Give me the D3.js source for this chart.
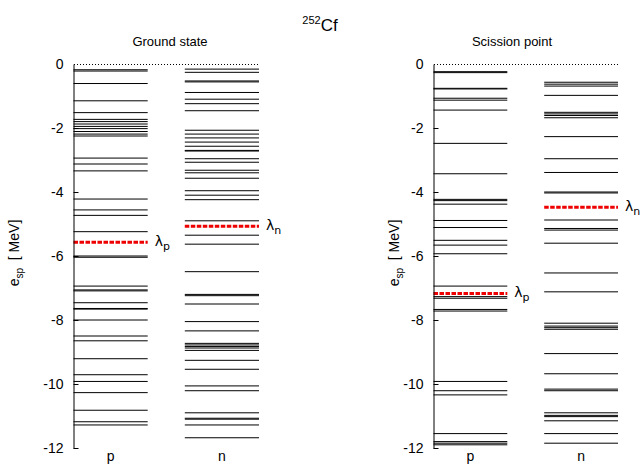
<!DOCTYPE html>
<html>
<head>
<meta charset="utf-8">
<script src="https://cdn.jsdelivr.net/npm/d3@7"></script>
<style>
  html, body { margin: 0; padding: 0; background: #fff; }
  svg { display: block; font-family: "Liberation Sans", Arial, sans-serif; }
</style>
</head>
<body>
<svg id="chart" width="641" height="464"></svg>
<script>
// ---------------- data ----------------
const nucleus = "Cf";
const massNumber = "252";
const panelTitles = ["Ground state", "Scission point"];
const columnLabels = ["p", "n"];
const yTicks = [0, -2, -4, -6, -8, -10, -12];

// Ground state single-particle levels (MeV)
const gsProton = [-0.18, -0.22, -0.61, -1.15, -1.52, -1.73, -1.80, -1.875, -1.95, -2.02, -2.11,
  -2.19, -2.25, -2.94, -3.125, -3.34, -4.22, -4.56, -4.73, -5.24, -6.0, -6.04, -6.94, -7.06,
  -7.09, -7.46, -7.64, -7.66, -8.0, -8.5, -8.65, -9.21, -9.71, -9.92, -10.27, -10.82, -11.18, -11.28];
const gsNeutron = [-0.16, -0.26, -0.53, -0.56, -0.89, -1.10, -1.24, -1.46, -2.07, -2.19, -2.31,
  -2.44, -2.57, -2.70, -2.72, -2.96, -3.07, -3.32, -3.40, -3.57, -3.96, -4.10, -4.24, -4.90,
  -5.35, -5.63, -6.49, -7.20, -7.24, -7.50, -8.05, -8.34, -8.73, -8.78, -8.83, -8.875, -8.95,
  -9.26, -9.54, -10.06, -10.21, -10.90, -11.07, -11.10, -11.28, -11.68];
// Scission point single-particle levels (MeV)
const spProton = [-0.24, -0.27, -0.76, -0.78, -1.07, -1.13, -1.44, -2.48, -3.43, -4.23, -4.27,
  -4.38, -4.89, -5.11, -5.51, -5.66, -5.93, -6.94, -7.27, -7.32, -7.67, -7.72, -9.92, -10.21,
  -10.34, -11.55, -11.80, -11.85, -11.90];
const spNeutron = [-0.57, -0.63, -0.69, -0.98, -1.51, -1.56, -1.61, -1.68, -2.27, -2.96, -3.39,
  -4.00, -4.03, -4.875, -5.14, -5.19, -5.60, -6.53, -7.12, -8.10, -8.19, -8.24, -8.29, -9.05,
  -9.68, -10.16, -10.21, -10.90, -10.98, -11.02, -11.15, -11.55, -11.85];
// Fermi levels (MeV)
const gsLambda = [-5.57, -5.07];   // [p, n]
const spLambda = [-7.17, -4.48];   // [p, n]

// ---------------- layout ----------------
const svg = d3.select("#chart");
const plotTop = 64, plotBottom = 448;
const y = d3.scaleLinear().domain([-12, 0]).range([plotBottom, plotTop]);

const panels = [
  { title: panelTitles[0], x0: 73.5, x1: 259, titleX: 170, levels: [gsProton, gsNeutron], lambda: gsLambda, ylabX: 19 },
  { title: panelTitles[1], x0: 433.5, x1: 618, titleX: 512, levels: [spProton, spNeutron], lambda: spLambda, ylabX: 399 }
];
const colSpan = [[0, 0.4], [0.6, 1.0]];

// main title
const t = svg.append("text").attr("x", 320).attr("y", 31).attr("text-anchor", "middle")
  .style("font-size", "17px");
t.append("tspan").text(massNumber).style("font-size", "11px").attr("dy", -7);
t.append("tspan").text(nucleus).attr("dy", 7);

panels.forEach(p => {
  const x = d3.scaleLinear().domain([0, 1]).range([p.x0, p.x1]);
  const g = svg.append("g");

  g.append("text").attr("x", p.titleX).attr("y", 46).attr("text-anchor", "middle")
    .style("font-size", "13px").text(p.title);

  g.append("line").attr("x1", x(0)).attr("x2", x(1)).attr("y1", y(0)).attr("y2", y(0))
    .attr("stroke", "#000").attr("stroke-width", 1).attr("stroke-dasharray", "1,2")
    .attr("shape-rendering", "crispEdges");

  p.levels.forEach((lev, ci) => {
    g.selectAll(null).data(lev).enter().append("line")
      .attr("x1", x(colSpan[ci][0])).attr("x2", x(colSpan[ci][1]))
      .attr("y1", d => y(d)).attr("y2", d => y(d))
      .attr("stroke", "#000").attr("stroke-width", 1);
  });

  p.lambda.forEach((lv, ci) => {
    g.append("line")
      .attr("x1", x(colSpan[ci][0])).attr("x2", x(colSpan[ci][1]))
      .attr("y1", y(lv)).attr("y2", y(lv))
      .attr("stroke", "#ee0000").attr("stroke-width", 3).attr("stroke-dasharray", "4.5,1.5");
    const lt = g.append("text").attr("x", x(colSpan[ci][1]) + 7).attr("y", y(lv) + 4)
      .style("font-size", "14px").style("font-family", "'DejaVu Sans', sans-serif");
    lt.append("tspan").text("λ");
    lt.append("tspan").text(columnLabels[ci]).attr("dy", 4).style("font-size", "11px");
  });

  const ax = d3.axisLeft(y).tickValues(yTicks).tickFormat(d3.format("d"))
    .tickSizeInner(-5).tickSizeOuter(0).tickPadding(10);
  const axg = g.append("g").attr("transform", `translate(${p.x0},0)`).call(ax);
  axg.select(".domain").attr("stroke", "#000");
  axg.selectAll(".tick line").attr("stroke", "#000").filter(d => d === 0).remove();
  axg.selectAll(".tick text").style("font-size", "14px").style("font-family", "'Liberation Sans', Arial, sans-serif")
    .attr("fill", "#000").text(d => String(d));

  columnLabels.forEach((lab, ci) => {
    g.append("text").attr("x", x((colSpan[ci][0] + colSpan[ci][1]) / 2)).attr("y", 461)
      .attr("text-anchor", "middle").style("font-size", "14px").text(lab);
  });

  const yl = g.append("text").attr("transform", `translate(${p.ylabX},253) rotate(-90)`)
    .attr("text-anchor", "middle").style("font-size", "14px");
  yl.append("tspan").text("e");
  yl.append("tspan").text("sp").attr("dy", 4).style("font-size", "10px");
  yl.append("tspan").text("  [ MeV]").attr("dy", -4).attr("xml:space", "preserve");
});
</script>
</body>
</html>
